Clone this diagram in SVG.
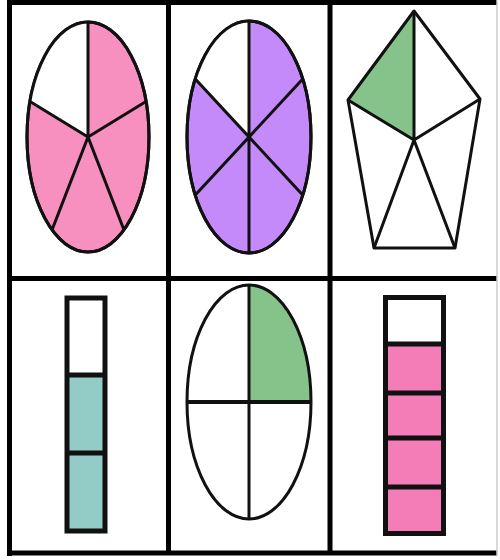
<svg xmlns="http://www.w3.org/2000/svg" width="500" height="560" viewBox="0 0 500 560">
<style>
.ln{stroke:#111;stroke-width:3;fill:none;stroke-linejoin:round}
.sh{stroke:#111;stroke-width:3;stroke-linejoin:round}
.bar{stroke:#111;stroke-width:5}
.frame{stroke:#000;stroke-width:5}
</style>
<rect width="500" height="560" fill="#fff"/>
<g id="frame">
<line class="frame" x1="8" y1="2.5" x2="497" y2="2.5"/>
<line class="frame" x1="9.5" y1="0" x2="9.5" y2="556"/>
<line class="frame" x1="8" y1="553" x2="497" y2="553"/>
<line class="frame" x1="8" y1="278.5" x2="497" y2="278.5"/>
<line class="frame" x1="168.5" y1="0" x2="168.5" y2="553"/>
<line class="frame" x1="330" y1="0" x2="330" y2="553"/>
<line x1="497" y1="0" x2="497" y2="556" stroke="#ccc" stroke-width="1.5"/>
</g>
<g id="pie5">
<ellipse cx="88" cy="137" rx="61" ry="115" fill="#f78fbf" class="sh"/>
<path d="M88 137 L30 101.5 A61 115 0 0 1 88 22 Z" fill="#fff"/>
<ellipse cx="88" cy="137" rx="61" ry="115" class="ln"/>
<path class="ln" d="M88 137 L88 22 M88 137 L146 101.5 M88 137 L124 230 M88 137 L52 230 M88 137 L30 101.5"/>
</g>
<g id="pie6">
<ellipse cx="249" cy="137" rx="62" ry="116" fill="#c48af9" class="sh"/>
<path d="M249 137 L195.3 79 A62 116 0 0 1 249 21 Z" fill="#fff"/>
<ellipse cx="249" cy="137" rx="62" ry="116" class="ln"/>
<path class="ln" d="M249 21 L249 253 M302.7 79 L195.3 195 M195.3 79 L302.7 195"/>
</g>
<g id="pentagon">
<polygon points="414,11 348,100 414,140" fill="#86c38b"/>
<polygon class="ln" points="414,11 480,99 455,248 374,248 348,100"/>
<path class="ln" d="M414 140 L414 11 M414 140 L480 99 M414 140 L455 248 M414 140 L374 248 M414 140 L348 100"/>
</g>
<g id="bar3">
<rect x="67" y="375" width="38" height="156" fill="#93cbc6"/>
<rect class="bar" x="67" y="298" width="38" height="233" fill="none"/>
<line class="bar" x1="67" y1="375" x2="105" y2="375"/>
<line class="bar" x1="67" y1="453" x2="105" y2="453"/>
</g>
<g id="circle4">
<ellipse cx="249" cy="402" rx="62" ry="117" fill="#fff"/>
<path d="M249 402 L249 285 A62 117 0 0 1 311 402 Z" fill="#86c38b"/>
<ellipse cx="249" cy="402" rx="62" ry="117" class="ln"/>
<line x1="187" y1="402" x2="311" y2="402" stroke="#111" stroke-width="4"/>
<line class="ln" x1="249" y1="285" x2="249" y2="519"/>
</g>
<g id="bar5">
<rect x="385.5" y="344" width="58" height="189.5" fill="#f47db8"/>
<rect class="bar" x="385.5" y="297.5" width="58" height="236" fill="none"/>
<line class="bar" x1="385.5" y1="344" x2="443.5" y2="344"/>
<line class="bar" x1="385.5" y1="393" x2="443.5" y2="393"/>
<line class="bar" x1="385.5" y1="438" x2="443.5" y2="438"/>
<line class="bar" x1="385.5" y1="487" x2="443.5" y2="487"/>
</g>
</svg>
